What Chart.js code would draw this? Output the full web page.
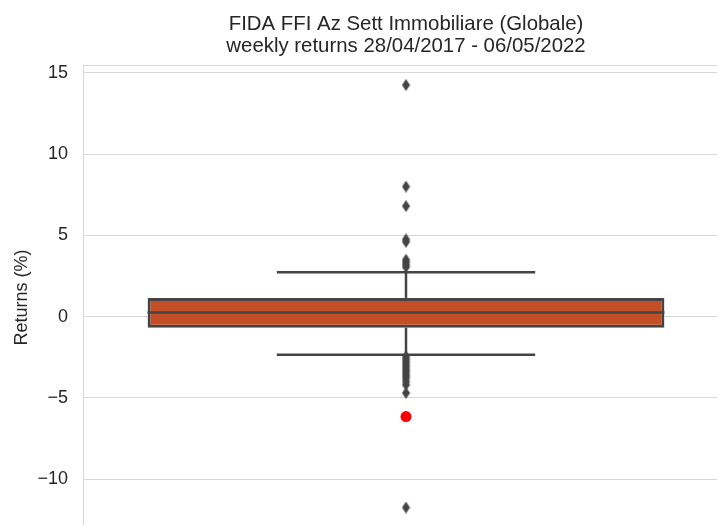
<!DOCTYPE html>
<html>
<head>
<meta charset="utf-8">
<script src="https://cdn.jsdelivr.net/npm/chart.js@4"></script>
<style>
    body { margin: 0; background: #fff; }
    #frame { width: 717px; height: 525px; overflow: hidden; }
</style>
</head>
<body>
<div id="frame"><canvas id="boxChart" width="812" height="535"></canvas></div>
<script>
// Box statistics of the weekly returns (%)
const chartTitle = ['FIDA FFI Az Sett Immobiliare (Globale)', 'weekly returns 28/04/2017 - 06/05/2022'];
const boxStats = { q1: -0.69, median: 0.26, q3: 1.15, whiskerLow: -2.35, whiskerHigh: 2.73 };
const outliers = [14.25, 8.0, 6.8, 4.75, 4.6, 3.5, 3.35, 3.2, 3.05,
    -2.45, -2.6, -2.75, -2.9, -3.05, -3.2, -3.35, -3.5, -3.65, -3.8, -4.0, -4.2, -4.7, -11.75];
const lastReturn = [-6.15];
const yTicks = [-10, -5, 0, 5, 10, 15];

const lineGray = '#444444';
const gridGray = '#d6d6d6';
const textColor = '#262626';
const fontFamily = '"Liberation Sans", Arial, sans-serif';

// thin diamond marker like matplotlib's 'd'
function thinDiamond() {
    const c = document.createElement('canvas');
    c.width = 9;
    c.height = 12;
    const g = c.getContext('2d');
    g.fillStyle = lineGray;
    g.beginPath();
    g.moveTo(4.5, 0);
    g.lineTo(8.5, 6);
    g.lineTo(4.5, 12);
    g.lineTo(0.5, 6);
    g.closePath();
    g.fill();
    return c;
}

function segment(x0, y0, x1, y1) {
    return [{ x: x0, y: y0 }, { x: x1, y: y1 }];
}

const lineStyle = {
    type: 'line',
    borderColor: lineGray,
    borderWidth: 2.5,
    pointRadius: 0,
    fill: false
};

const ctx = document.getElementById('boxChart').getContext('2d');

new Chart(ctx, {
    type: 'bar',
    data: {
        datasets: [
            {
                type: 'scatter',
                data: lastReturn.map(v => ({ x: 0, y: v })),
                pointStyle: 'circle',
                pointRadius: 5.5,
                backgroundColor: '#ff0000',
                borderWidth: 0,
                order: 0
            },
            {
                type: 'scatter',
                data: outliers.map(v => ({ x: 0, y: v })),
                pointStyle: thinDiamond(),
                order: 1
            },
            Object.assign({ data: segment(-0.4, boxStats.median, 0.4, boxStats.median), order: 2 }, lineStyle),
            {
                data: [{ x: 0, y: [boxStats.q1, boxStats.q3] }],
                backgroundColor: '#c44e26',
                borderColor: lineGray,
                borderWidth: 3,
                borderSkipped: false,
                barPercentage: 0.8,
                categoryPercentage: 1.0,
                order: 3
            },
            Object.assign({ data: segment(0, boxStats.q3, 0, boxStats.whiskerHigh), order: 4 }, lineStyle),
            Object.assign({ data: segment(0, boxStats.q1, 0, boxStats.whiskerLow), order: 4 }, lineStyle),
            Object.assign({ data: segment(-0.2, boxStats.whiskerHigh, 0.2, boxStats.whiskerHigh), order: 4 }, lineStyle),
            Object.assign({ data: segment(-0.2, boxStats.whiskerLow, 0.2, boxStats.whiskerLow), order: 4 }, lineStyle)
        ]
    },
    options: {
        responsive: false,
        animation: false,
        devicePixelRatio: 1,
        layout: {
            padding: { left: 0, right: 0, top: 0, bottom: 6 }
        },
        plugins: {
            legend: { display: false },
            tooltip: { enabled: false },
            title: {
                display: true,
                text: chartTitle,
                color: textColor,
                font: { family: fontFamily, size: 20.4, weight: 'normal', lineHeight: 1.1 },
                padding: { top: 13, bottom: 8 }
            }
        },
        scales: {
            x: {
                type: 'linear',
                position: 'top',
                min: -0.5,
                max: 0.5,
                offset: false,
                grid: { display: false, drawTicks: false },
                ticks: { display: false },
                border: { display: true, color: gridGray, width: 1 },
                afterBuildTicks: scale => {
                    scale.ticks = [{ value: -0.5 }, { value: 0.5 }];
                },
                afterFit: scale => {
                    scale.height = 0;
                }
            },
            y: {
                min: -13.07,
                max: 15.43,
                grid: { color: gridGray, lineWidth: 1, drawTicks: false },
                border: { display: true, color: gridGray, width: 1 },
                afterBuildTicks: scale => {
                    scale.ticks = yTicks.map(v => ({ value: v }));
                },
                ticks: {
                    color: textColor,
                    padding: 15,
                    font: { family: fontFamily, size: 18 },
                    callback: value => String(value).replace('-', '\u2212')
                },
                title: {
                    display: true,
                    text: 'Returns (%)',
                    color: textColor,
                    font: { family: fontFamily, size: 18 },
                    padding: { top: 11, bottom: 0 }
                },
                afterFit: scale => {
                    scale.width = 83;
                    scale.paddingTop = 0;
                    scale.paddingBottom = 0;
                }
            },
            // empty right axis: the plot continues past the visible edge
            yRight: {
                position: 'right',
                display: true,
                grid: { display: false, drawTicks: false },
                border: { display: false },
                ticks: { display: false },
                afterFit: scale => {
                    scale.width = 83;
                    scale.paddingTop = 0;
                    scale.paddingBottom = 0;
                }
            }
        }
    }
});
</script>
</body>
</html>
